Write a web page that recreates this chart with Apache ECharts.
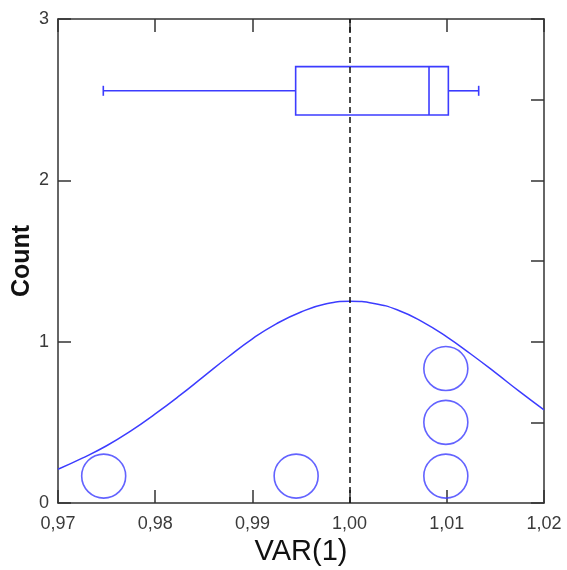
<!DOCTYPE html>
<html>
<head>
<meta charset="utf-8">
<script src="https://cdn.jsdelivr.net/npm/echarts@6/dist/echarts.min.js"></script>
<style>
html,body{margin:0;padding:0;background:#fff;}
#chart{width:567px;height:570px;}
</style>
</head>
<body>
<div id="chart"></div>
<script>
// ---- data ----
const xTicks = [0.97, 0.98, 0.99, 1.00, 1.01, 1.02];
const yTicks = [0, 1, 2, 3];
const pointX = [0.9747, 0.9945, 1.0099, 1.0099, 1.0099];
const pointY = [0.1667, 0.1667, 0.1667, 0.5, 0.8333];
const curveX = [0.970, 0.9725, 0.975, 0.9775, 0.980, 0.9825, 0.985, 0.9875, 0.990, 0.9925, 0.995, 0.9975, 1.000, 1.0025, 1.005, 1.0075, 1.010, 1.0125, 1.015, 1.0175, 1.020];
const curveY = [0.209, 0.278, 0.355, 0.447, 0.552, 0.665, 0.785, 0.905, 1.018, 1.112, 1.184, 1.233, 1.25, 1.237, 1.195, 1.123, 1.03, 0.922, 0.808, 0.69, 0.577];
const boxStats = [0.97466, 0.99445, 1.00817, 1.01016, 1.01328]; // min, Q1, median, Q3, max
const boxCenterY = 2.555;
const meanLineX = 1.00;

const BLUE = '#3c3cff';
const AXIS = '#333';
const FONT = '"Liberation Sans", Arial, sans-serif';

const chart = echarts.init(document.getElementById('chart'), null, {renderer: 'canvas'});
const fmt = v => v.toFixed(2).replace('.', ',');

const axisCommon = {
  type: 'value',
  axisLine: {show: true, onZero: false, lineStyle: {color: AXIS, width: 1.5}},
  axisTick: {show: true, inside: true, length: 13, lineStyle: {color: AXIS, width: 1.5}},
  splitLine: {show: false}
};

const option = {
  animation: false,
  backgroundColor: '#fff',
  grid: {left: 58, right: 23, top: 19, bottom: 67, containLabel: false, outerBoundsMode: 'none'},
  xAxis: [
    Object.assign({}, axisCommon, {
      position: 'bottom', min: xTicks[0], max: xTicks[xTicks.length - 1], interval: 0.01,
      axisLabel: {formatter: fmt, fontSize: 18, color: '#3a3a3a', margin: 12, fontFamily: FONT, showMaxLabel: true, showMinLabel: true},
      name: 'VAR(1)', nameLocation: 'middle', nameGap: 34, nameMoveOverlap: false,
      nameTextStyle: {fontSize: 29, color: '#111', fontFamily: FONT}
    }),
    Object.assign({}, axisCommon, {
      position: 'top', min: xTicks[0], max: xTicks[xTicks.length - 1], interval: 0.01,
      axisLabel: {show: false}
    })
  ],
  yAxis: [
    Object.assign({}, axisCommon, {
      position: 'left', min: yTicks[0], max: yTicks[yTicks.length - 1], interval: 1,
      axisLabel: {fontSize: 18, color: '#3a3a3a', margin: 9, fontFamily: FONT},
      name: 'Count', nameLocation: 'middle', nameGap: 23, nameMoveOverlap: false,
      nameTextStyle: {fontSize: 25, fontWeight: 'bold', color: '#111', fontFamily: FONT}
    }),
    Object.assign({}, axisCommon, {
      position: 'right', min: yTicks[0], max: yTicks[yTicks.length - 1], interval: 0.5,
      axisLabel: {show: false}
    })
  ],
  series: [
    {
      type: 'line',
      xAxisIndex: 0, yAxisIndex: 0,
      data: curveX.map((x, i) => [x, curveY[i]]),
      smooth: true,
      showSymbol: false,
      lineStyle: {color: BLUE, width: 1.5},
      z: 3
    },
    {
      type: 'scatter',
      xAxisIndex: 0, yAxisIndex: 0,
      data: pointX.map((x, i) => [x, pointY[i]]),
      symbol: 'circle',
      symbolSize: 44,
      itemStyle: {color: 'rgba(0,0,0,0)', borderColor: BLUE, borderWidth: 1.6},
      z: 3,
      markLine: {
        silent: true,
        symbol: ['none', 'none'],
        label: {show: false},
        lineStyle: {color: '#111', type: [6, 4], width: 1.5},
        data: [{xAxis: meanLineX}]
      }
    },
    {
      type: 'custom',
      xAxisIndex: 0, yAxisIndex: 0,
      data: [[...boxStats, boxCenterY]],
      encode: {x: [0, 1, 2, 3, 4], y: 5},
      z: 4,
      renderItem: function (params, api) {
        const y = api.value(5);
        const pLo = api.coord([api.value(0), y]);
        const pQ1 = api.coord([api.value(1), y]);
        const pMed = api.coord([api.value(2), y]);
        const pQ3 = api.coord([api.value(3), y]);
        const pHi = api.coord([api.value(4), y]);
        const top = api.coord([api.value(1), y + 0.15])[1];
        const bot = api.coord([api.value(1), y - 0.15])[1];
        const cy = pLo[1];
        const cap = 5;
        const st = {stroke: BLUE, lineWidth: 1.6, fill: null};
        return {
          type: 'group',
          children: [
            {type: 'line', shape: {x1: pLo[0], y1: cy, x2: pQ1[0], y2: cy}, style: st},
            {type: 'line', shape: {x1: pQ3[0], y1: cy, x2: pHi[0], y2: cy}, style: st},
            {type: 'line', shape: {x1: pLo[0], y1: cy - cap, x2: pLo[0], y2: cy + cap}, style: st},
            {type: 'line', shape: {x1: pHi[0], y1: cy - cap, x2: pHi[0], y2: cy + cap}, style: st},
            {type: 'rect', shape: {x: pQ1[0], y: top, width: pQ3[0] - pQ1[0], height: bot - top}, style: st},
            {type: 'line', shape: {x1: pMed[0], y1: top, x2: pMed[0], y2: bot}, style: st}
          ]
        };
      }
    }
  ]
};
chart.setOption(option);
</script>
</body>
</html>
